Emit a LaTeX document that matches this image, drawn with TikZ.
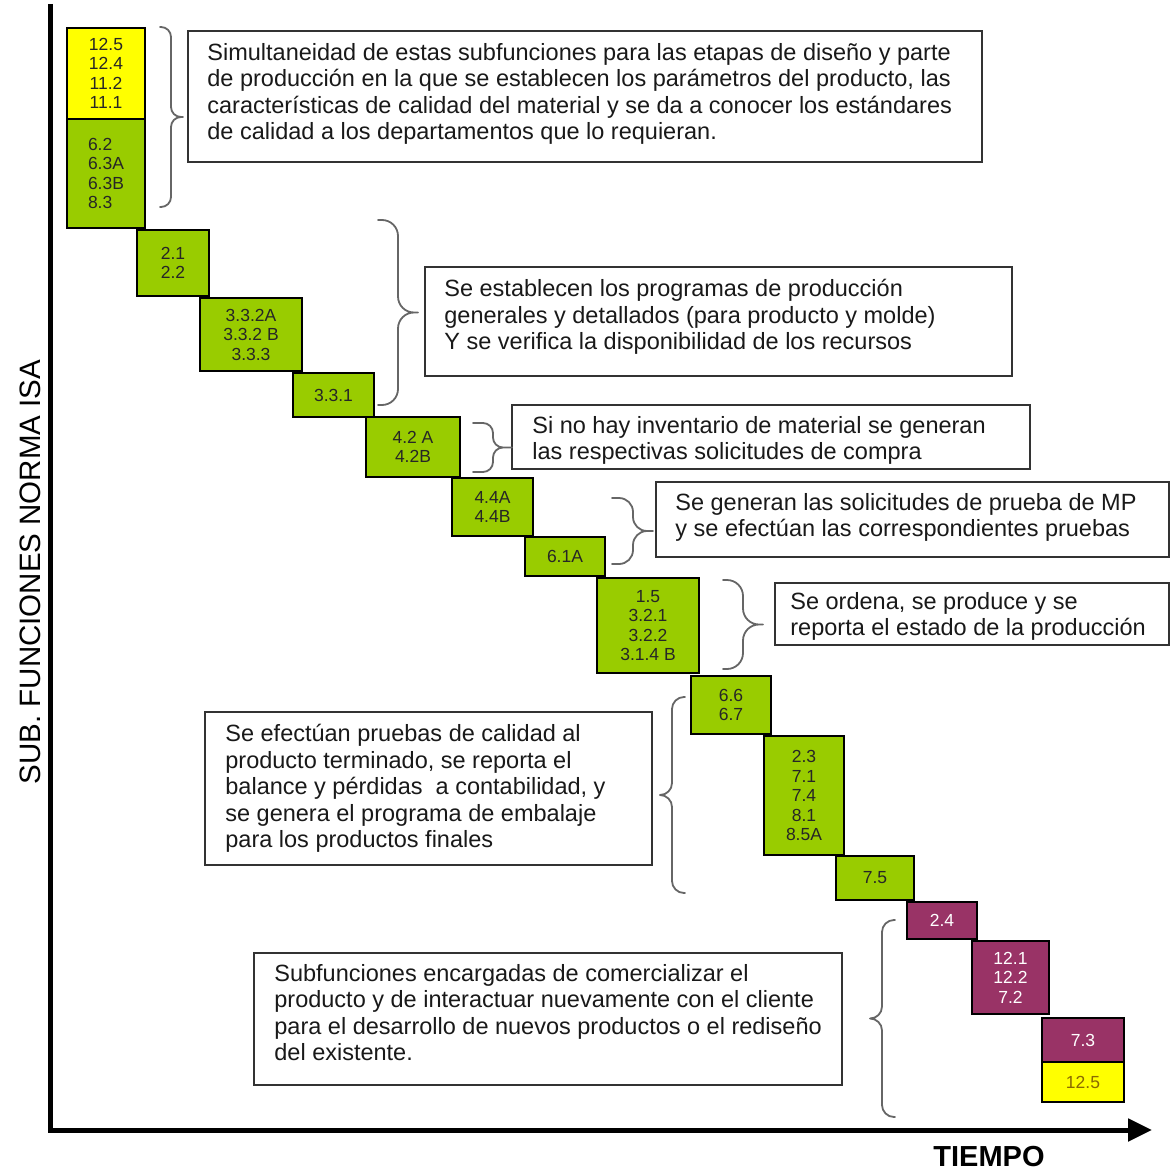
\documentclass[tikz,border=0pt]{standalone}
\usepackage{fontspec}
\setmainfont{Liberation Sans}
\usetikzlibrary{arrows.meta}
\definecolor{isagreen}{HTML}{99CC00}
\definecolor{isayellow}{HTML}{FFFF00}
\definecolor{isaplum}{HTML}{993366}
\definecolor{isabrown}{HTML}{8A6A00}
\newcommand\boxnumfont{\fontsize{8.75}{9.75}\selectfont}
\newcommand\notefont{\fontsize{11.75}{13.25}\selectfont}
\begin{document}
\begin{tikzpicture}[x=0.5pt,y=-0.5pt,
  numbox/.style={draw=black, line width=0.6pt, inner sep=0pt, align=center,
                 font=\boxnumfont, text=black!85},
  greenbox/.style={numbox, fill=isagreen},
  yellowbox/.style={numbox, fill=isayellow},
  plumbox/.style={numbox, fill=isaplum, text=white},
  notebox/.style={draw=black!80, line width=0.8pt, fill=white, inner sep=0pt},
  notetext/.style={anchor=north west, inner sep=0pt, align=left, font=\notefont, text=black!90},
  curly/.style={draw=black!60, line width=0.9pt, line cap=round},
  axis/.style={line width=2.5pt, line join=miter},
]
\useasboundingbox (0,0) rectangle (1171,1172);

% axes
\coordinate (ytop) at (50,4);
\coordinate (origin) at (50,1130);
\coordinate (xend) at (1152,1130);
\draw[axis, -{Triangle[length=12pt,width=11pt]}] (ytop) -- (origin) -- (xend);
\node[rotate=90, font=\fontsize{14.75}{16}\selectfont] (ylabel) at (30,572) {SUB. FUNCIONES NORMA ISA};
\node[font=\fontsize{14.5}{16}\selectfont\bfseries] (xlabel) at (989,1157) {TIEMPO};

% subfunction blocks along the time line
\node[yellowbox, minimum width=39pt, minimum height=45.5pt] (b1y) at (106,73.5) {12.5\\12.4\\11.2\\11.1};
\node[greenbox, minimum width=39pt, minimum height=54.5pt, align=left] (b1g) at (106,173.5) {6.2\\6.3A\\6.3B\\8.3};
\node[greenbox, minimum width=36pt, minimum height=33pt] (b2) at (173,263) {2.1\\2.2};
\node[greenbox, minimum width=51pt, minimum height=36.5pt] (b3) at (251,334.5) {3.3.2A\\3.3.2 B\\3.3.3};
\node[greenbox, minimum width=40.5pt, minimum height=22pt] (b4) at (333.5,395) {3.3.1};
\node[greenbox, minimum width=47pt, minimum height=30pt] (b5) at (413,447) {4.2 A\\4.2B};
\node[greenbox, minimum width=40.5pt, minimum height=29pt] (b6) at (492.5,507) {4.4A\\4.4B};
\node[greenbox, minimum width=40pt, minimum height=19.5pt] (b7) at (565,556.5) {6.1A};
\node[greenbox, minimum width=51pt, minimum height=47.5pt] (b8) at (648,625.5) {1.5\\3.2.1\\3.2.2\\3.1.4 B};
\node[greenbox, minimum width=40pt, minimum height=29pt] (b9) at (731,705) {6.6\\6.7};
\node[greenbox, minimum width=40pt, minimum height=59.5pt] (b10) at (804,795.5) {2.3\\7.1\\7.4\\8.1\\8.5A};
\node[greenbox, minimum width=39pt, minimum height=22pt] (b11) at (875,878) {7.5};
\node[plumbox, minimum width=35pt, minimum height=18.5pt] (b12) at (942,920.5) {2.4};
\node[plumbox, minimum width=38.5pt, minimum height=36.5pt] (b13) at (1010.5,977.5) {12.1\\12.2\\7.2};
\node[plumbox, minimum width=41pt, minimum height=22pt] (b14p) at (1083,1040) {7.3};
\node[yellowbox, minimum width=41pt, minimum height=20pt, text=isabrown] (b14y) at (1083,1082) {12.5};

% explanatory notes
\node[notebox, minimum width=397pt, minimum height=65.5pt] (nA) at (585,96.5) {};
\node[notetext] (tA) at (207,43) {Simultaneidad de estas subfunciones para las etapas de diseño y parte\\de producción en la que se establecen los parámetros del producto, las\\características de calidad del material y se da a conocer los estándares\\de calidad a los departamentos que lo requieran.};

\node[notebox, minimum width=293.5pt, minimum height=54.5pt] (nB) at (718.5,321.5) {};
\node[notetext] (tB) at (444,279) {Se establecen los programas de producción\\generales y detallados (para producto y molde)\\Y se verifica la disponibilidad de los recursos};

\node[notebox, minimum width=259pt, minimum height=32pt] (nC) at (771,437) {};
\node[notetext] (tC) at (532,416) {Si no hay inventario de material se generan\\las respectivas solicitudes de compra};

\node[notebox, minimum width=256.5pt, minimum height=37.5pt] (nD) at (912.5,519.5) {};
\node[notetext] (tD) at (675,493) {Se generan las solicitudes de prueba de MP\\y se efectúan las correspondientes pruebas};

\node[notebox, minimum width=197pt, minimum height=31pt] (nE) at (972,614) {};
\node[notetext] (tE) at (790,592) {Se ordena, se produce y se\\reporta el estado de la producción};

\node[notebox, minimum width=223.5pt, minimum height=76.5pt] (nF) at (428.5,788.5) {};
\node[notetext] (tF) at (225,724) {Se efectúan pruebas de calidad al\\producto terminado, se reporta el\\balance y pérdidas~ a contabilidad, y\\se genera el programa de embalaje\\para los productos finales};

\node[notebox, minimum width=294pt, minimum height=66pt] (nG) at (548,1019) {};
\node[notetext] (tG) at (274,964) {Subfunciones encargadas de comercializar el\\producto y de interactuar nuevamente con el cliente\\para el desarrollo de nuevos productos o el rediseño\\del existente.};

% curly braces grouping the blocks: two ends, a stem and a tip
\coordinate (k1a) at (160,27);   \coordinate (k1b) at (160,207);  \coordinate (k1t) at (183,117);
\coordinate (k2a) at (378,220);  \coordinate (k2b) at (378,405);  \coordinate (k2t) at (418,312.5);
\coordinate (k3a) at (473,423);  \coordinate (k3b) at (473,472);  \coordinate (k3t) at (512,447.5);
\coordinate (k4a) at (612,498);  \coordinate (k4b) at (612,564);  \coordinate (k4t) at (653,531);
\coordinate (k5a) at (723,580);  \coordinate (k5b) at (723,669);  \coordinate (k5t) at (763,624.5);
\coordinate (k6a) at (685,697);  \coordinate (k6b) at (685,893);  \coordinate (k6t) at (660,795);
\coordinate (k7a) at (895,920);  \coordinate (k7b) at (895,1117); \coordinate (k7t) at (870,1018.5);

\draw[curly, rounded corners=5pt]
  (k1a) -- (k1a -| 171,0) -- (171,0 |- k1t) -- (k1t)
  (k1b) -- (k1b -| 171,0) -- (171,0 |- k1t) -- (k1t);
\draw[curly, rounded corners=8pt]
  (k2a) -- (k2a -| 398,0) -- (398,0 |- k2t) -- (k2t)
  (k2b) -- (k2b -| 398,0) -- (398,0 |- k2t) -- (k2t);
\draw[curly, rounded corners=5pt]
  (k3a) -- (k3a -| 493,0) -- (493,0 |- k3t) -- (k3t)
  (k3b) -- (k3b -| 493,0) -- (493,0 |- k3t) -- (k3t);
\draw[curly, rounded corners=7pt]
  (k4a) -- (k4a -| 633,0) -- (633,0 |- k4t) -- (k4t)
  (k4b) -- (k4b -| 633,0) -- (633,0 |- k4t) -- (k4t);
\draw[curly, rounded corners=8pt]
  (k5a) -- (k5a -| 743,0) -- (743,0 |- k5t) -- (k5t)
  (k5b) -- (k5b -| 743,0) -- (743,0 |- k5t) -- (k5t);
\draw[curly, rounded corners=6pt]
  (k6a) -- (k6a -| 672,0) -- (672,0 |- k6t) -- (k6t)
  (k6b) -- (k6b -| 672,0) -- (672,0 |- k6t) -- (k6t);
\draw[curly, rounded corners=6pt]
  (k7a) -- (k7a -| 882,0) -- (882,0 |- k7t) -- (k7t)
  (k7b) -- (k7b -| 882,0) -- (882,0 |- k7t) -- (k7t);
\end{tikzpicture}
\end{document}
